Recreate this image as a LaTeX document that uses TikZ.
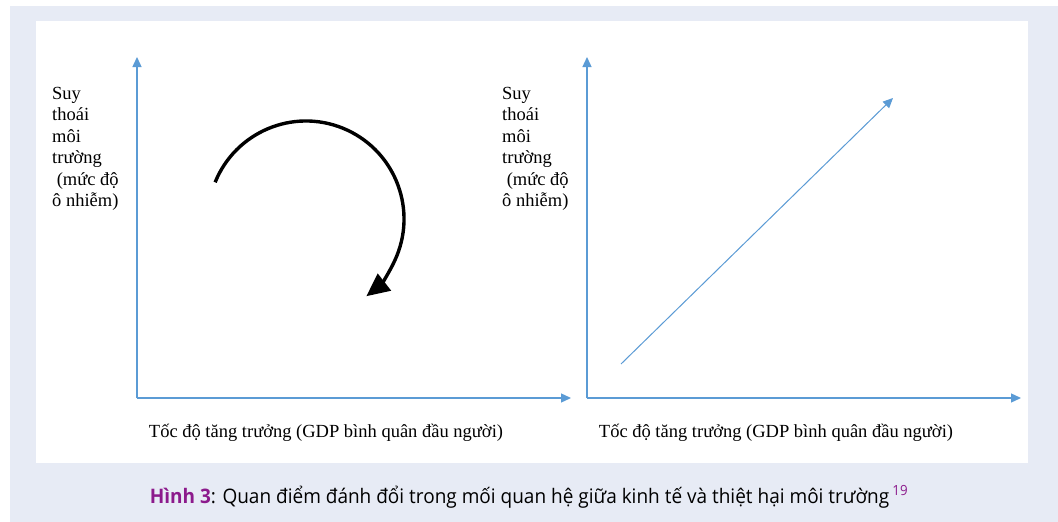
\documentclass[tikz,border=0pt]{standalone}
\usepackage{fontspec}
\setmainfont{Liberation Serif}
\newfontfamily\capfont[FakeStretch=0.95]{Open Sans}
\usetikzlibrary{arrows.meta,positioning,calc}
\definecolor{axisblue}{RGB}{91,155,213}
\definecolor{pagegray}{RGB}{231,235,245}
\definecolor{capviolet}{RGB}{140,26,140}

\begin{document}
\begin{tikzpicture}[x=1pt,y=1pt,font=\fontsize{18.5}{21.5}\selectfont,
 ax/.style={-{Triangle[length=10pt,width=9pt]},line width=1.3pt,draw=axisblue},
 ylab/.style={anchor=north west,align=left,inner sep=0pt},
 xlab/.style={anchor=center,inner sep=0pt},
 turn/.style={-{Triangle[length=23pt,width=21pt]},line width=3.4pt,draw=black}]
\useasboundingbox (0,0) rectangle (1058,-522);
\fill[pagegray] (10,-6) rectangle (1058,-522);
\fill[white] (36,-21) rectangle (1028,-463);
% left panel
\coordinate (oL) at (137,-398);
\coordinate (yL) at (137,-57);
\coordinate (xL) at (571,-398);
\draw[ax] (oL)--(yL);
\draw[ax] (oL)--(xL);
\node[ylab] (yLabL) at (52,-87) {Suy\\thoái\\môi\\trường\\\ (mức độ\\ô nhiễm)};
\node[xlab] (xLabL) at (326,-433) {Tốc độ tăng trưởng (GDP bình quân đầu người)};
\coordinate (c) at (306,-219);
\draw[turn] (c) ++(158:98) arc[start angle=158,end angle=-52,radius=98];
% right panel
\coordinate (oR) at (587,-398);
\coordinate (yR) at (587,-57);
\coordinate (xR) at (1021,-398);
\draw[ax] (oR)--(yR);
\draw[ax] (oR)--(xR);
\node[ylab] (yLabR) at (502,-87) {Suy\\thoái\\môi\\trường\\\ (mức độ\\ô nhiễm)};
\node[xlab] (xLabR) at (776,-433) {Tốc độ tăng trưởng (GDP bình quân đầu người)};
\coordinate (p1) at (621,-364);
\coordinate (p2) at (893,-98);
\draw[ax,line width=1pt] (p1)--(p2);
% caption
\node[anchor=center,font=\capfont\fontsize{20}{24}\selectfont] (cap) at (529,-497)
 {{\color{capviolet}\textbf{Hình 3}}: Quan điểm đánh đổi trong mối quan hệ giữa kinh tế và thiệt hại môi trường\,\textsuperscript{\color{capviolet}19}};
\end{tikzpicture}
\end{document}
